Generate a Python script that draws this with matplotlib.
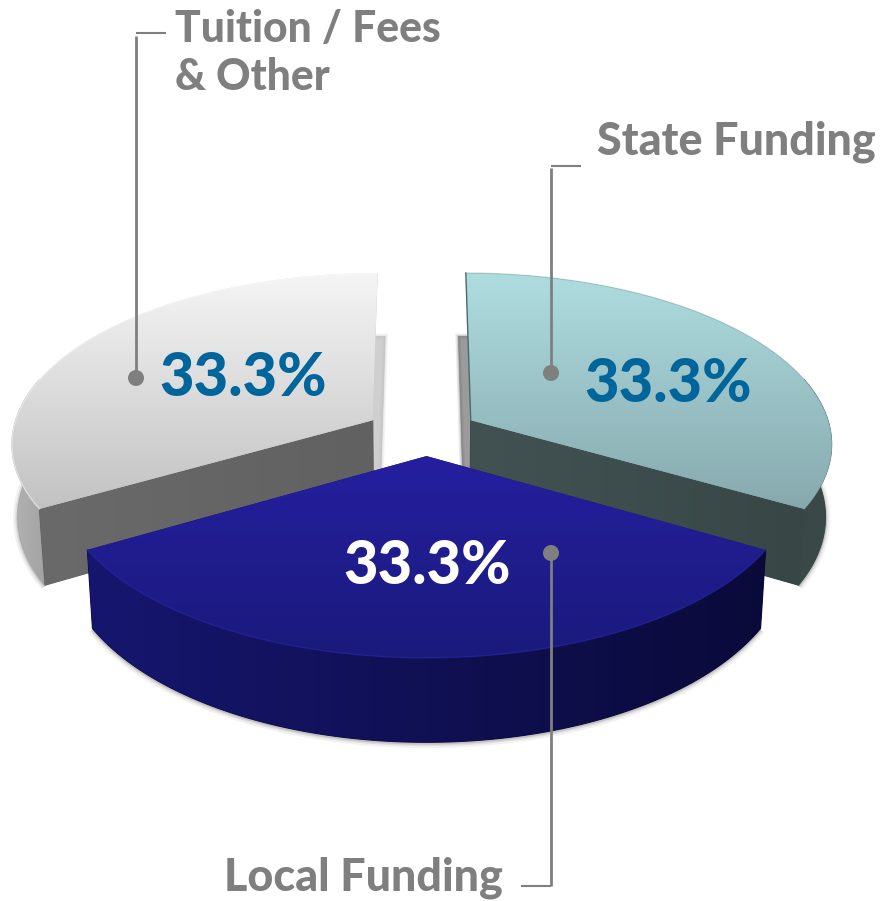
import numpy as np
import matplotlib
matplotlib.use("Agg")
import matplotlib.pyplot as plt
from matplotlib.colors import LinearSegmentedColormap
from matplotlib.patches import Polygon, Circle

plt.rcParams['font.family'] = ['Lato', 'DejaVu Sans']

# Data
names = ["Local Funding", "State Funding", "Tuition / Fees\n& Other"]
shares = [33.3, 33.3, 33.3]
pct_labels = ["33.3%", "33.3%", "33.3%"]

# Colours, same order as the data
top_cols = [("#251f9f", "#1a1a7c"), ("#aedde0", "#87a9ae"), ("#f5f5f5", "#c2c2c2")]
rim_cols = [("#16166f", "#0a0a3a"), ("#3a4848", "#3a4848"), ("#b4b4b4", "#a2a2a2")]
cut_cols = [("#16166f", "#0a0a3a"), ("#425252", "#384646"), ("#6a6a6a", "#616161")]
edge_cols = ["#2b2aae", "#8fb0b4", "#ffffff"]
pct_cols = ["white", "#00659b", "#00659b"]
line_gray = "#7f7f7f"

# Projection of the tilted pie on the picture, in pixels
cx, cy = 425, 432
A, B, k = 364, 169, 0.129
explode = 0.14
depth = 72
slice_shift = [1.5, 2, -8.5]
slice_scale = [0.987, 0.99, 0.99]


def project(u, v, z=0.0):
    d = 1 - k * v
    s = 1 - 0.015 * z
    return cx + A * u * s / d, cy + B * v / d + z * depth / d


def gradient(ax, poly, c0, c1, zorder, vertical=True):
    xs, ys = poly[:, 0], poly[:, 1]
    cmap = LinearSegmentedColormap.from_list("g", [c0, c1])
    g = np.linspace(0, 1, 256)
    img = g[:, None] if vertical else g[None, :]
    patch = Polygon(poly, closed=True, fc="none", ec="none", transform=ax.transData)
    ax.add_patch(patch)
    im = ax.imshow(img, cmap=cmap, extent=(xs.min(), xs.max(), ys.max(), ys.min()),
                   origin="upper", aspect="auto", interpolation="bilinear", zorder=zorder)
    im.set_clip_path(patch)


fig = plt.figure(figsize=(8.82, 9.01), dpi=100)
ax = fig.add_axes([0, 0, 1, 1])

# Slices, back ones first so the front one covers them
total = sum(shares)
spans = [s / total * 2 * np.pi for s in shares]
starts = -spans[0] / 2 + np.cumsum([0] + spans[:-1])

for i in [2, 1, 0]:
    z0 = (3 - i) * 10 if i > 0 else 30
    t = np.linspace(starts[i], starts[i] + spans[i], 240)
    mid = starts[i] + spans[i] / 2
    ou, ov = explode * np.sin(mid), explode * np.cos(mid)
    u, v = ou + np.sin(t), ov + np.cos(t)

    top = np.column_stack(project(u, v))
    bot = np.column_stack(project(u, v, 1))
    apex_t = np.array(project(ou, ov))
    apex_b = np.array(project(ou, ov, 1))

    # per slice correction around its own apex
    ax0 = apex_t[0]
    for arr in (top, bot):
        arr[:, 0] = ax0 + slice_scale[i] * (arr[:, 0] - ax0) + slice_shift[i]
    apex_b[0] = ax0 + slice_scale[i] * (apex_b[0] - ax0) + slice_shift[i]
    apex_t[0] = ax0 + slice_shift[i]

    # thin wall at the back, seen as a soft strip beside the gap
    if i > 0:
        back_b = bot[-1] if i == 1 else bot[0]
        side = -7 if i == 1 else 7
        wall = np.array([back_b + [side, 0], back_b - [side, 0], apex_b - [side, 0], apex_b + [side, 0]])
        wall_col = "#6a6a6a" if i == 1 else "#b8b8b8"
        for w, a in zip([4, 2, 0.5], [0.15, 0.2, 0.5]):
            ax.add_patch(Polygon(wall, closed=True, fc=wall_col, ec=wall_col, lw=w, alpha=a, zorder=z0))

    # only the part of the rim facing the viewer is drawn
    if i == 1:
        keep = t < np.radians(105)
    elif i == 2:
        keep = t > np.radians(255)
    else:
        keep = np.ones_like(t, dtype=bool)
    rim = np.vstack([top[keep], bot[keep][::-1]])
    for w, a in zip([7, 4, 2], [0.08, 0.12, 0.2]):
        ax.plot(bot[keep, 0], bot[keep, 1] + 1, color="#555555", lw=w, alpha=a, zorder=z0 + 1,
                solid_capstyle="butt")
    ax.add_patch(Polygon(rim, closed=True, fc=rim_cols[i][1], ec=rim_cols[i][1], lw=0.8, zorder=z0 + 1.5))
    gradient(ax, rim, rim_cols[i][0], rim_cols[i][1], z0 + 2, vertical=False)

    # cut faces
    if i == 1:
        cut = np.array([apex_t, top[0], bot[0], apex_b])
    elif i == 2:
        cut = np.array([apex_t, top[-1], bot[-1], apex_b])
    else:
        cut = None
    if cut is not None:
        ax.add_patch(Polygon(cut, closed=True, fc=cut_cols[i][1], ec=cut_cols[i][1], lw=0.8, zorder=z0 + 2.5))
        gradient(ax, cut, cut_cols[i][0], cut_cols[i][1], z0 + 3, vertical=False)

    # top face
    face = np.vstack([apex_t, top])
    ax.add_patch(Polygon(face, closed=True, fc=top_cols[i][1], ec="none", zorder=z0 + 3.5))
    gradient(ax, face, top_cols[i][0], top_cols[i][1], z0 + 4)
    ax.plot(top[:, 0], top[:, 1], color=edge_cols[i], lw=1.0, alpha=0.5, zorder=z0 + 5)
    if i == 1:
        ax.plot([top[-1, 0], apex_t[0]], [top[-1, 1], apex_t[1]], color="#4a6a6c", lw=1.0, zorder=z0 + 5)

# Percent labels
pct_pos = [(427, 566), (668, 384), (243, 378)]
for lab, pos, col in zip(pct_labels, pct_pos, pct_cols):
    ax.text(pos[0], pos[1], lab, color=col, fontsize=43, fontweight=900,
            ha="center", va="center", zorder=50)

# Leader lines: horizontal stub, vertical line, dot
h_lines = [([521, 551], 886), ([551, 581], 166), ([136, 166], 33)]
v_lines = [(551, [553, 886]), (551, [373, 168]), (136, [378, 36])]
for xs, y in h_lines:
    ax.plot(xs, [y, y], color=line_gray, lw=1.5, zorder=51, solid_capstyle="butt")
for x, ys in v_lines:
    ax.plot([x, x], ys, color=line_gray, lw=2.0, zorder=51, solid_capstyle="butt")
    ax.add_patch(Circle((x, ys[0]), 8, fc=line_gray, ec="none", zorder=51))

# Category labels
label_pos = [(224, 878), (597, 142), (175, 53)]
label_sizes = [32.3, 32.3, 30.7]
for name, (x, y), fs in zip(names, label_pos, label_sizes):
    ax.text(x, y, name, color=line_gray, fontsize=fs, fontweight=900,
            ha="left", va="center", linespacing=1.27, zorder=51)

ax.set_xlim(0, 882)
ax.set_ylim(901, 0)
ax.axis("off")

fig.savefig("out.png", dpi=100, facecolor="white")
